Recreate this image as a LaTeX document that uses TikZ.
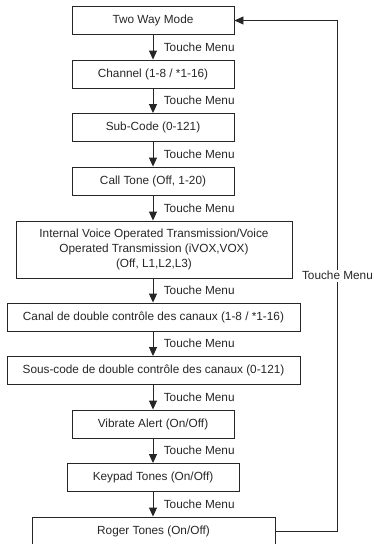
\documentclass[tikz,border=0pt]{standalone}
\usepackage{fontspec}
\setmainfont{Liberation Sans}
\usetikzlibrary{arrows.meta}
\begin{document}
\begin{tikzpicture}[
    x=1pt,
    y=-1pt,
    >={Triangle[length=9pt,width=8pt]},
    font=\fontsize{11.8}{15}\selectfont,
    color=black!85,
    etape/.style={
        draw,
        line width=0.9pt,
        minimum width=162pt,
        minimum height=28pt,
        inner sep=2pt,
        align=center
    },
    fleche/.style={
        ->,
        line width=0.9pt
    },
    touche/.style={
        midway,
        right=7pt
    }
]
    \useasboundingbox (0,0) rectangle (373,544);

    \node[etape] (mode) at (153,20.5) {Two Way Mode};
    \node[etape] (canal) at (153,74) {Channel (1-8 / *1-16)};
    \node[etape] (souscode) at (153,127.5) {Sub-Code (0-121)};
    \node[etape] (appel) at (153,181) {Call Tone (Off, 1-20)};
    \node[etape,minimum width=276pt,minimum height=57pt] (vox) at (154,249.5)
        {Internal Voice Operated Transmission/Voice\\
         Operated Transmission (iVOX,VOX)\\
         (Off, L1,L2,L3)};
    \node[etape,minimum width=293pt] (canal-dcc) at (153.5,317)
        {Canal de double contrôle des canaux (1-8 / *1-16)};
    \node[etape,minimum width=293pt] (souscode-dcc) at (153.5,370.5)
        {Sous-code de double contrôle des canaux (0-121)};
    \node[etape] (vibreur) at (153,424) {Vibrate Alert (On/Off)};
    \node[etape,minimum width=172pt] (clavier) at (153,477.5) {Keypad Tones (On/Off)};
    \node[etape,minimum width=243pt] (roger) at (153.5,531) {Roger Tones (On/Off)};

    \draw[fleche] (mode) -- (canal) node[touche] {Touche Menu};
    \draw[fleche] (canal) -- (souscode) node[touche] {Touche Menu};
    \draw[fleche] (souscode) -- (appel) node[touche] {Touche Menu};
    \draw[fleche] (appel) -- (appel |- vox.north) node[touche] {Touche Menu};
    \draw[fleche] (appel |- vox.south) -- (canal-dcc.north -| appel) node[touche] {Touche Menu};
    \draw[fleche] (canal-dcc.south -| appel) -- (souscode-dcc.north -| appel) node[touche] {Touche Menu};
    \draw[fleche] (souscode-dcc.south -| appel) -- (vibreur) node[touche] {Touche Menu};
    \draw[fleche] (vibreur) -- (clavier) node[touche] {Touche Menu};
    \draw[fleche] (clavier) -- (roger.north -| clavier) node[touche] {Touche Menu};

    \draw[fleche] (roger.east) -- ++(62,0) |- (mode.east)
        node[pos=0.25,fill=white,inner sep=1.5pt] {Touche Menu};
\end{tikzpicture}
\end{document}
